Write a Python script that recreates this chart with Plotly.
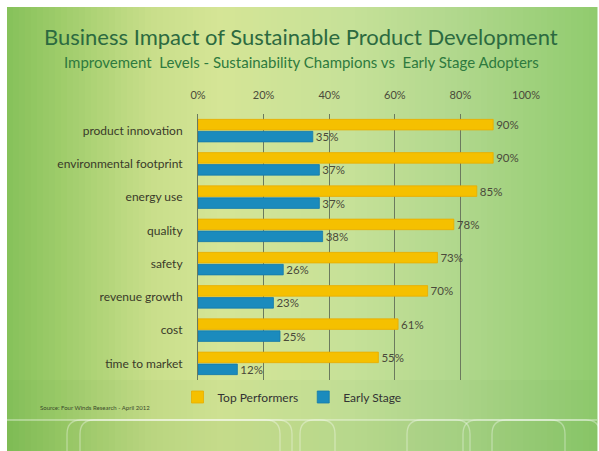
import plotly.graph_objects as go

categories = ["product innovation", "environmental footprint", "energy use", "quality",
              "safety", "revenue growth", "cost", "time to market"]
top_performers = [0.90, 0.90, 0.85, 0.78, 0.73, 0.70, 0.61, 0.55]
early_stage = [0.35, 0.37, 0.37, 0.38, 0.26, 0.23, 0.25, 0.12]
x_ticks = [0, 0.2, 0.4, 0.6, 0.8, 1.0]
x_tick_labels = ["0%", "20%", "40%", "60%", "80%", "100%"]

W, H = 599, 451
L, R, T, B = 198, 73, 114, 71
PW, PH = W - L - R, H - T - B


def px(x):
    return (x - L) / PW


def py(y):
    return (H - B - y) / PH


fig = go.Figure()
fig.add_trace(go.Bar(
    y=categories, x=top_performers, orientation="h", name="Top Performers",
    marker=dict(color="#f5c000", line=dict(color="#e8ac00", width=0.8)),
    text=[f"{round(v*100)}%" for v in top_performers], textposition="outside",
    textfont=dict(size=11.5, color="#4a4a3a"), cliponaxis=False, constraintext="none",
))
fig.add_trace(go.Bar(
    y=categories, x=early_stage, orientation="h", name="Early Stage",
    marker=dict(color="#1b8bbd", line=dict(color="#167aa8", width=0.8)),
    text=[f"{round(v*100)}%" for v in early_stage], textposition="outside",
    textfont=dict(size=11.5, color="#4a4a3a"), cliponaxis=False, constraintext="none",
))

# background gradient (horizontal)
stops = [(7, (134, 193, 90)), (60, (158, 204, 106)), (150, (200, 222, 138)),
         (220, (213, 229, 150)), (350, (198, 225, 152)), (450, (178, 216, 142)),
         (597, (144, 203, 110))]


def col_at(x):
    for (x0, c0), (x1, c1) in zip(stops[:-1], stops[1:]):
        if x0 <= x <= x1:
            t = (x - x0) / (x1 - x0)
            return tuple(int(round(a + (b - a) * t)) for a, b in zip(c0, c1))
    return stops[-1][1]


shapes = []
step = 6
x = 7
while x < 597:
    x2 = min(x + step, 597)
    c = col_at((x + x2) / 2)
    shapes.append(dict(type="rect", xref="paper", yref="paper", layer="below",
                       x0=px(x), x1=px(x2 + 0.5), y0=py(451), y1=py(7),
                       fillcolor=f"rgb{c}", line=dict(width=0)))
    x = x2
for (y0, y1, a) in [(380, 420, 0.04), (420, 451, 0.10)]:
    shapes.append(dict(type="rect", xref="paper", yref="paper", layer="below",
                       x0=px(7), x1=px(597), y0=py(y1), y1=py(y0),
                       fillcolor=f"rgba(60,140,40,{a})", line=dict(width=0)))
shapes.append(dict(type="line", xref="paper", yref="paper", layer="below",
                   x0=px(7), x1=px(597), y0=py(420), y1=py(420),
                   line=dict(color="rgba(255,255,255,0.45)", width=1.5)))
for (a, b) in [(67, 280), (80, 292), (300, 335), (407, 470), (463, 565), (492, 600)]:
    r = 14
    path = (f"M {px(a)},{py(455)} L {px(a)},{py(420 + r)} "
            f"Q {px(a)},{py(420)} {px(a + r)},{py(420)} "
            f"L {px(b - r)},{py(420)} Q {px(b)},{py(420)} {px(b)},{py(420 + r)} "
            f"L {px(b)},{py(455)}")
    shapes.append(dict(type="path", xref="paper", yref="paper", layer="below", path=path,
                       line=dict(color="rgba(255,255,255,0.35)", width=1.3)))

annotations = [
    dict(text="Business Impact of Sustainable Product Development", xref="paper", yref="paper",
         x=px(301), y=py(36), xanchor="center", yanchor="middle", showarrow=False,
         font=dict(family="Lato", size=22, color="#2c6a40")),
    dict(text="Improvement  Levels - Sustainability Champions vs  Early Stage Adopters",
         xref="paper", yref="paper", x=px(301), y=py(62), xanchor="center", yanchor="middle",
         showarrow=False, font=dict(family="Lato", size=15, color="#2e7a3e")),
    dict(text="Source: Four Winds Research - April 2012", xref="paper", yref="paper",
         x=px(38), y=py(407), xanchor="left", yanchor="middle", showarrow=False,
         font=dict(family="Lato", size=6, color="#3a4a2a")),
]

fig.update_layout(
    width=W, height=H, margin=dict(l=L, r=R, t=T, b=B, autoexpand=False),
    paper_bgcolor="white", plot_bgcolor="rgba(0,0,0,0)",
    barmode="group", bargap=0.28, bargroupgap=0.12,
    font=dict(family="Lato", color="#333333"),
    shapes=shapes, annotations=annotations,
    showlegend=True,
    legend=dict(orientation="h", x=px(292), y=py(397), xanchor="center", yanchor="middle",
                font=dict(size=12, color="#333333"), bgcolor="rgba(0,0,0,0)",
                itemwidth=30, traceorder="normal"),
    xaxis=dict(range=[0, 1.0], side="top", tickvals=x_ticks, ticktext=x_tick_labels,
               showgrid=True, gridcolor="#6b7a5e", gridwidth=1, zeroline=False,
               showline=False, ticks="", tickfont=dict(size=11, color="#4a4a3a"),
               ticklabelstandoff=12, fixedrange=True),
    yaxis=dict(autorange="reversed", showgrid=False, showline=True, linecolor="#6b7a5e",
               linewidth=1, ticks="", tickfont=dict(size=12, color="#3a3a2a"),
               ticklabelstandoff=12),
)

fig.write_html("out.html")
